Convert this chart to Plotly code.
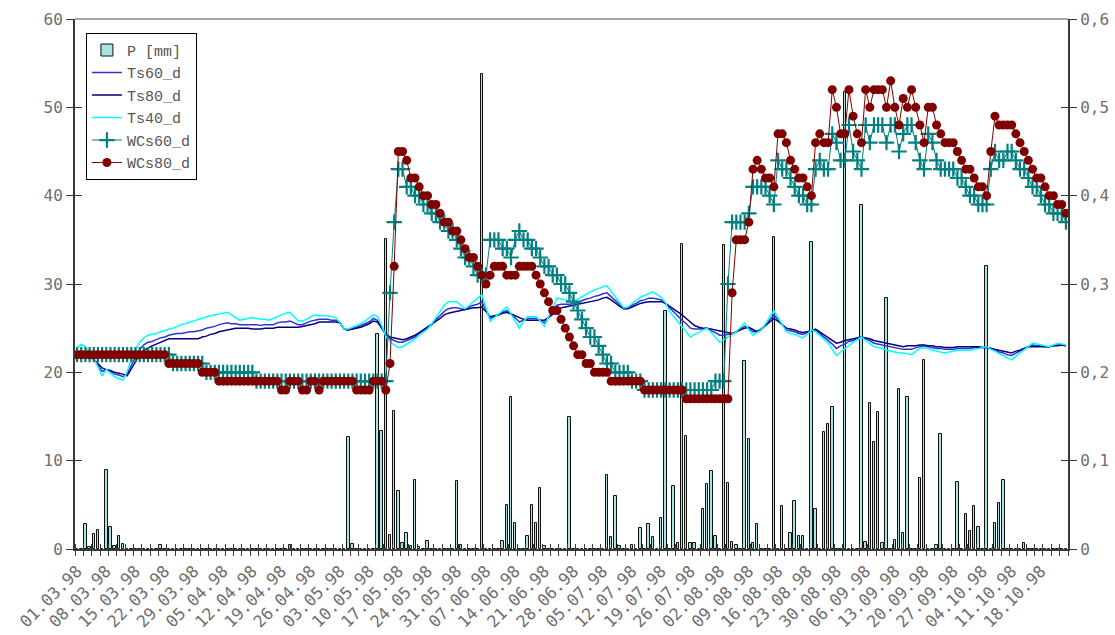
import plotly.graph_objects as go
import pandas as pd

# ---------------- data (daily, 01.03.98 .. 24.10.98) ----------------
dates = pd.date_range("1998-03-01", "1998-10-24", freq="D")
date_labels = [d.strftime("%d.%m.%y") for d in dates]
day = list(range(len(dates)))

precip = [
    0, 0, 2.8, 0.2, 1.7, 2.1, 0, 8.9, 2.5, 0.3,
    1.5, 0.6, 0, 0, 0, 0, 0, 0, 0, 0,
    0.5, 0, 0, 0, 0, 0, 0, 0, 0, 0,
    0, 0, 0, 0, 0, 0, 0, 0, 0, 0,
    0, 0, 0, 0, 0, 0, 0, 0, 0, 0,
    0, 0.4, 0, 0, 0, 0, 0, 0, 0, 0,
    0, 0, 0, 0, 0, 12.7, 0.6, 0, 0, 0,
    0, 0, 24.3, 13.4, 35.1, 1.6, 15.6, 6.6, 0.7, 1.8,
    0.3, 7.8, 0.2, 0, 0.9, 0, 0, 0, 0, 0,
    0, 7.7, 0.4, 0, 0, 0, 0, 53.8, 0, 0,
    0, 0, 0.9, 5.0, 17.2, 3.0, 0, 0, 1.5, 5.0,
    3.0, 6.9, 0.3, 0, 0, 0, 0, 0, 15.0, 0,
    0, 0, 0, 0, 0, 0, 0, 8.4, 1.4, 6.0,
    0.3, 0, 0, 0.4, 0, 2.4, 0, 2.8, 1.4, 0,
    3.5, 27.0, 0, 7.1, 0.7, 34.5, 12.8, 0.7, 0.7, 0,
    4.5, 7.4, 8.8, 1.5, 0, 34.4, 7.5, 0.8, 0.4, 0,
    21.3, 12.4, 0.7, 2.8, 0, 0, 0, 35.3, 0, 4.9,
    0, 1.8, 5.4, 1.5, 1.5, 0, 34.7, 4.5, 0, 13.2,
    14.2, 16.1, 0, 0, 51.7, 0, 0, 0, 38.9, 0.8,
    16.5, 12.1, 15.5, 0.7, 28.4, 0, 1.0, 18.1, 1.8, 17.2,
    0, 0, 8.0, 21.4, 0, 0, 0.5, 13.0, 0, 0,
    0, 7.6, 0, 4.0, 2.0, 4.9, 2.5, 0, 32.0, 0,
    2.9, 5.2, 7.8, 0, 0, 0, 0, 0.7, 0, 0,
    0, 0, 0, 0, 0, 0, 0, 0,
]

ts60 = [
    22.3, 22.4, 22.2, 21.9, 21.5, 20.8, 20.1, 20.3, 20.1, 19.8,
    19.7, 19.5, 19.8, 20.8, 21.8, 22.6, 23.1, 23.4, 23.5, 23.7,
    23.9, 24.0, 24.2, 24.3, 24.4, 24.4, 24.5, 24.6, 24.6, 24.7,
    24.8, 25.0, 25.1, 25.2, 25.4, 25.5, 25.6, 25.5, 25.5, 25.4,
    25.4, 25.4, 25.4, 25.4, 25.3, 25.4, 25.4, 25.4, 25.6, 25.7,
    25.7, 25.8, 25.6, 25.4, 25.4, 25.6, 25.8, 25.9, 26.0, 26.0,
    26.0, 25.9, 25.9, 25.6, 24.9, 24.8, 25.0, 25.1, 25.3, 25.5,
    25.7, 26.1, 25.9, 25.1, 24.2, 23.8, 23.6, 23.4, 23.4, 23.6,
    23.8, 24.0, 24.4, 24.7, 25.0, 25.4, 26.0, 26.4, 26.9, 27.2,
    27.3, 27.3, 27.2, 27.1, 27.4, 27.6, 27.7, 28.0, 27.1, 26.1,
    26.3, 26.5, 26.8, 27.0, 26.6, 26.2, 25.7, 25.9, 26.1, 26.1,
    26.1, 25.9, 25.6, 26.2, 26.9, 27.6, 27.7, 27.7, 27.7, 27.8,
    27.9, 28.1, 28.3, 28.4, 28.6, 28.7, 28.9, 29.0, 28.6, 28.1,
    27.7, 27.2, 27.3, 27.6, 27.8, 28.1, 28.2, 28.4, 28.4, 28.3,
    28.2, 27.8, 27.3, 26.8, 26.4, 25.9, 25.5, 25.0, 24.9, 24.9,
    24.9, 25.0, 24.7, 24.5, 24.2, 24.2, 24.3, 24.3, 24.6, 24.9,
    25.2, 25.0, 24.6, 24.6, 24.9, 25.4, 25.9, 26.5, 26.0, 25.4,
    24.8, 24.7, 24.6, 24.4, 24.3, 24.5, 24.7, 24.8, 24.4, 24.1,
    23.7, 23.2, 22.7, 23.0, 23.2, 23.5, 23.6, 23.8, 24.0, 23.8,
    23.6, 23.3, 23.2, 23.1, 23.0, 22.9, 22.8, 22.7, 22.6, 22.6,
    22.6, 22.8, 22.9, 23.0, 22.9, 22.8, 22.7, 22.7, 22.6, 22.6,
    22.6, 22.7, 22.7, 22.7, 22.7, 22.8, 22.8, 22.8, 22.8, 22.7,
    22.5, 22.3, 22.2, 22.0, 21.9, 22.2, 22.4, 22.7, 22.9, 23.1,
    23.0, 23.0, 22.9, 22.9, 23.0, 23.1, 23.1, 23.0,
]

ts80 = [
    22.0, 21.9, 21.8, 21.7, 21.5, 21.0, 20.5, 20.3, 20.2, 20.0,
    19.9, 19.8, 19.6, 20.4, 21.2, 22.0, 22.5, 22.8, 23.0, 23.2,
    23.4, 23.6, 23.8, 23.8, 23.8, 23.8, 23.8, 23.8, 23.8, 23.8,
    24.0, 24.1, 24.3, 24.4, 24.6, 24.7, 24.8, 24.9, 25.0, 25.0,
    25.0, 25.0, 24.9, 24.9, 24.9, 25.0, 25.0, 25.0, 25.1, 25.1,
    25.1, 25.1, 25.1, 25.1, 25.2, 25.3, 25.4, 25.5, 25.7, 25.7,
    25.7, 25.7, 25.7, 25.6, 24.9, 24.8, 24.9, 25.0, 25.1, 25.3,
    25.5, 25.8, 25.7, 25.0, 24.3, 24.0, 23.9, 23.8, 23.7, 23.8,
    24.0, 24.2, 24.5, 24.8, 25.1, 25.4, 25.8, 26.1, 26.5, 26.7,
    26.8, 26.9, 27.0, 27.1, 27.2, 27.3, 27.3, 27.4, 26.9, 26.3,
    26.4, 26.5, 26.7, 26.8, 26.6, 26.4, 26.2, 26.0, 25.9, 25.9,
    25.9, 25.9, 25.9, 26.2, 26.6, 27.0, 27.3, 27.4, 27.5, 27.6,
    27.7, 27.8, 27.9, 28.0, 28.1, 28.2, 28.4, 28.5, 28.2, 27.8,
    27.5, 27.2, 27.2, 27.4, 27.6, 27.8, 27.9, 28.0, 28.0, 28.0,
    28.0, 27.8, 27.5, 27.2, 26.9, 26.5, 26.1, 25.7, 25.3, 25.1,
    25.0, 25.0, 24.9, 24.8, 24.7, 24.6, 24.5, 24.4, 24.6, 24.8,
    25.0, 25.1, 24.8, 24.6, 24.9, 25.3, 25.7, 26.1, 25.8, 25.4,
    25.0, 24.9, 24.8, 24.6, 24.5, 24.6, 24.7, 24.9, 24.6, 24.3,
    24.0, 23.6, 23.3, 23.4, 23.6, 23.7, 23.8, 23.9, 24.0, 23.9,
    23.8, 23.6, 23.5, 23.4, 23.3, 23.2, 23.1, 23.0, 22.9, 23.0,
    23.0, 23.0, 23.1, 23.1, 23.0, 23.0, 22.9, 22.9, 22.8, 22.8,
    22.8, 22.9, 22.9, 22.9, 22.9, 22.9, 22.9, 22.8, 22.8, 22.7,
    22.6, 22.5, 22.4, 22.3, 22.2, 22.4, 22.5, 22.7, 22.9, 22.9,
    22.9, 22.9, 22.9, 22.9, 23.0, 23.0, 23.1, 23.0,
]

ts40 = [
    22.8, 23.2, 22.9, 22.3, 21.6, 20.6, 19.6, 20.3, 19.9, 19.5,
    19.3, 19.1, 20.1, 21.5, 22.6, 23.4, 23.9, 24.2, 24.3, 24.4,
    24.6, 24.7, 24.9, 25.0, 25.2, 25.4, 25.5, 25.7, 25.8, 26.0,
    26.1, 26.3, 26.4, 26.5, 26.6, 26.7, 26.8, 26.5, 26.2, 25.9,
    26.0, 26.1, 26.2, 26.1, 26.0, 26.0, 25.9, 26.1, 26.3, 26.5,
    26.7, 26.8, 26.3, 25.8, 25.8, 26.0, 26.3, 26.5, 26.4, 26.4,
    26.4, 26.3, 26.2, 25.6, 24.9, 24.9, 25.1, 25.3, 25.5, 25.8,
    26.1, 26.5, 26.3, 25.3, 24.1, 23.5, 23.1, 22.8, 22.9, 23.2,
    23.5, 23.8, 24.2, 24.5, 24.9, 25.5, 26.2, 26.9, 27.6, 28.0,
    28.0, 28.0, 27.6, 27.2, 27.6, 28.0, 28.4, 28.8, 27.3, 25.8,
    26.2, 26.6, 27.0, 27.4, 26.6, 25.8, 25.0, 25.8, 26.3, 26.3,
    26.3, 25.8, 25.2, 26.3, 27.4, 28.4, 28.3, 28.2, 28.1, 28.0,
    28.3, 28.6, 28.9, 29.1, 29.3, 29.5, 29.7, 29.8, 29.2, 28.6,
    28.0, 27.3, 27.4, 27.8, 28.1, 28.5, 28.7, 28.9, 29.1, 28.8,
    28.5, 27.9, 26.9, 26.3, 25.7, 25.1, 24.5, 24.0, 24.3, 24.5,
    24.8, 25.0, 24.5, 24.0, 23.4, 23.7, 24.0, 24.2, 24.6, 25.1,
    25.6, 24.8, 24.2, 24.5, 24.8, 25.5, 26.2, 27.0, 26.2, 25.4,
    24.6, 24.4, 24.3, 24.1, 23.9, 24.3, 24.8, 24.6, 24.2, 23.8,
    23.3, 22.6, 21.9, 22.3, 22.7, 23.1, 23.4, 23.7, 24.0, 23.6,
    23.2, 22.9, 22.8, 22.7, 22.5, 22.4, 22.3, 22.2, 22.2, 22.1,
    22.0, 22.4, 22.7, 22.8, 22.7, 22.5, 22.4, 22.3, 22.2, 22.3,
    22.4, 22.5, 22.5, 22.5, 22.5, 22.6, 22.7, 22.8, 22.9, 22.6,
    22.4, 22.1, 21.9, 21.6, 21.4, 21.8, 22.2, 22.6, 22.9, 23.3,
    23.2, 23.1, 23.0, 22.9, 23.1, 23.3, 23.2, 23.1,
]

wcs60 = [
    0.22, 0.22, 0.22, 0.22, 0.22, 0.22, 0.22, 0.22, 0.22, 0.22,
    0.22, 0.22, 0.22, 0.22, 0.22, 0.22, 0.22, 0.22, 0.22, 0.22,
    0.22, 0.22, 0.22, 0.21, 0.21, 0.21, 0.21, 0.21, 0.21, 0.21,
    0.21, 0.20, 0.20, 0.20, 0.20, 0.20, 0.20, 0.20, 0.20, 0.20,
    0.20, 0.20, 0.20, 0.19, 0.19, 0.19, 0.19, 0.19, 0.19, 0.19,
    0.19, 0.19, 0.19, 0.19, 0.19, 0.19, 0.19, 0.19, 0.19, 0.19,
    0.19, 0.19, 0.19, 0.19, 0.19, 0.19, 0.19, 0.19, 0.19, 0.19,
    0.19, 0.19, 0.19, 0.19, 0.19, 0.29, 0.37, 0.43, 0.43, 0.41,
    0.41, 0.40, 0.40, 0.39, 0.39, 0.38, 0.38, 0.37, 0.37, 0.36,
    0.36, 0.35, 0.34, 0.33, 0.33, 0.32, 0.31, 0.31, 0.31, 0.35,
    0.35, 0.35, 0.34, 0.34, 0.33, 0.35, 0.36, 0.35, 0.35, 0.34,
    0.34, 0.33, 0.32, 0.32, 0.31, 0.31, 0.30, 0.30, 0.29, 0.28,
    0.27, 0.26, 0.25, 0.24, 0.24, 0.23, 0.22, 0.21, 0.21, 0.20,
    0.20, 0.20, 0.20, 0.19, 0.19, 0.19, 0.18, 0.18, 0.18, 0.18,
    0.18, 0.18, 0.18, 0.18, 0.18, 0.18, 0.18, 0.18, 0.18, 0.18,
    0.18, 0.18, 0.18, 0.19, 0.19, 0.19, 0.30, 0.37, 0.37, 0.37,
    0.37, 0.38, 0.41, 0.41, 0.41, 0.41, 0.40, 0.39, 0.44, 0.43,
    0.43, 0.42, 0.41, 0.40, 0.40, 0.39, 0.39, 0.43, 0.44, 0.43,
    0.43, 0.47, 0.46, 0.44, 0.44, 0.48, 0.45, 0.44, 0.43, 0.48,
    0.46, 0.48, 0.48, 0.48, 0.46, 0.48, 0.48, 0.45, 0.47, 0.48,
    0.48, 0.46, 0.44, 0.43, 0.47, 0.46, 0.44, 0.43, 0.43, 0.43,
    0.43, 0.42, 0.42, 0.41, 0.40, 0.40, 0.39, 0.39, 0.39, 0.43,
    0.45, 0.44, 0.44, 0.45, 0.45, 0.44, 0.43, 0.43, 0.42, 0.41,
    0.41, 0.40, 0.39, 0.39, 0.38, 0.38, 0.38, 0.37,
]

wcs80 = [
    0.22, 0.22, 0.22, 0.22, 0.22, 0.22, 0.22, 0.22, 0.22, 0.22,
    0.22, 0.22, 0.22, 0.22, 0.22, 0.22, 0.22, 0.22, 0.22, 0.22,
    0.22, 0.22, 0.21, 0.21, 0.21, 0.21, 0.21, 0.21, 0.21, 0.21,
    0.20, 0.20, 0.20, 0.20, 0.19, 0.19, 0.19, 0.19, 0.19, 0.19,
    0.19, 0.19, 0.19, 0.19, 0.19, 0.19, 0.19, 0.19, 0.19, 0.18,
    0.18, 0.19, 0.19, 0.19, 0.18, 0.18, 0.19, 0.19, 0.18, 0.19,
    0.19, 0.19, 0.19, 0.19, 0.19, 0.19, 0.19, 0.18, 0.18, 0.18,
    0.18, 0.19, 0.19, 0.19, 0.18, 0.21, 0.32, 0.45, 0.45, 0.44,
    0.42, 0.42, 0.41, 0.40, 0.40, 0.39, 0.39, 0.38, 0.37, 0.37,
    0.36, 0.36, 0.35, 0.34, 0.33, 0.33, 0.32, 0.31, 0.30, 0.31,
    0.32, 0.32, 0.32, 0.31, 0.31, 0.31, 0.32, 0.32, 0.32, 0.32,
    0.31, 0.30, 0.29, 0.28, 0.27, 0.27, 0.26, 0.25, 0.24, 0.23,
    0.22, 0.22, 0.21, 0.21, 0.20, 0.20, 0.20, 0.20, 0.19, 0.19,
    0.19, 0.19, 0.19, 0.19, 0.19, 0.19, 0.18, 0.18, 0.18, 0.18,
    0.18, 0.18, 0.18, 0.18, 0.18, 0.18, 0.17, 0.17, 0.17, 0.17,
    0.17, 0.17, 0.17, 0.17, 0.17, 0.17, 0.17, 0.29, 0.35, 0.35,
    0.35, 0.37, 0.43, 0.44, 0.43, 0.42, 0.42, 0.41, 0.47, 0.47,
    0.46, 0.44, 0.43, 0.42, 0.42, 0.41, 0.40, 0.46, 0.47, 0.46,
    0.46, 0.52, 0.50, 0.47, 0.47, 0.52, 0.49, 0.47, 0.46, 0.52,
    0.50, 0.52, 0.52, 0.52, 0.50, 0.53, 0.50, 0.48, 0.51, 0.50,
    0.52, 0.50, 0.48, 0.46, 0.50, 0.50, 0.48, 0.47, 0.46, 0.46,
    0.46, 0.45, 0.44, 0.43, 0.43, 0.42, 0.41, 0.41, 0.40, 0.45,
    0.49, 0.48, 0.48, 0.48, 0.48, 0.47, 0.46, 0.45, 0.44, 0.43,
    0.42, 0.42, 0.41, 0.40, 0.40, 0.39, 0.39, 0.38,
]

left_ticks = [0, 10, 20, 30, 40, 50, 60]
right_ticks = [0, 0.1, 0.2, 0.3, 0.4, 0.5, 0.6]
right_labels = ["0", "0,1", "0,2", "0,3", "0,4", "0,5", "0,6"]

for name, arr in [("precip", precip), ("ts60", ts60), ("ts80", ts80),
                  ("ts40", ts40), ("wcs60", wcs60), ("wcs80", wcs80)]:
    assert len(arr) == len(day), (name, len(arr))

# ---------------- figure ----------------
AX = "#3a3a3a"
TXT = "#6e6e6e"
MONO = "DejaVu Sans Mono"

fig = go.Figure()
fig.add_trace(go.Bar(
    x=day, y=precip, name="P [mm]", width=0.6,
    marker=dict(color="#A6E3E3", line=dict(color="#111111", width=1)),
))
fig.add_trace(go.Scatter(x=day, y=ts60, name="Ts60_d", mode="lines",
                         line=dict(color="#3333CC", width=1.5)))
fig.add_trace(go.Scatter(x=day, y=ts80, name="Ts80_d", mode="lines",
                         line=dict(color="#000080", width=1.5)))
fig.add_trace(go.Scatter(x=day, y=ts40, name="Ts40_d", mode="lines",
                         line=dict(color="#00FFFF", width=1.5)))
fig.add_trace(go.Scatter(x=day, y=wcs60, name="WCs60_d", mode="lines+markers",
                         yaxis="y2",
                         line=dict(color="#008080", width=1),
                         marker=dict(symbol="cross-thin", size=11,
                                     line=dict(color="#008080", width=2.2))))
fig.add_trace(go.Scatter(x=day, y=wcs80, name="WCs80_d", mode="lines+markers",
                         yaxis="y2",
                         line=dict(color="#800000", width=1),
                         marker=dict(symbol="circle", size=9, color="#800000")))
# helper traces so the overlay axes (inner half of crossing ticks) get drawn
fig.add_trace(go.Scatter(x=[None], y=[None], xaxis="x2", yaxis="y3",
                         showlegend=False, hoverinfo="skip"))
fig.add_trace(go.Scatter(x=[None], y=[None], xaxis="x", yaxis="y4",
                         showlegend=False, hoverinfo="skip"))

xr = [-0.5, len(day) - 0.5]
fig.update_layout(
    width=1115, height=635,
    margin=dict(l=75, r=47, t=19, b=86),
    paper_bgcolor="white", plot_bgcolor="white",
    bargap=0, showlegend=True,
    font=dict(family=MONO, color=TXT),
    xaxis=dict(
        range=xr, tickmode="array", tickvals=day[::7], ticktext=date_labels[::7],
        tickangle=-45, ticks="", showgrid=False, zeroline=False, automargin=False,
        showline=True, linecolor=AX, linewidth=2, ticklabelstandoff=4,
        tickfont=dict(family=MONO, size=16.5, color=TXT),
        minor=dict(tickmode="linear", tick0=-0.5, dtick=2, ticks="outside",
                   ticklen=5, tickwidth=1, tickcolor=AX),
    ),
    xaxis2=dict(
        range=xr, overlaying="x", anchor="y", showticklabels=False,
        tickmode="array", tickvals=[], ticks="", showgrid=False, zeroline=False,
        showline=False, automargin=False,
        minor=dict(tickmode="linear", tick0=-0.5, dtick=2, ticks="inside",
                   ticklen=5, tickwidth=1, tickcolor=AX),
    ),
    yaxis=dict(
        range=[0, 60], tickmode="array", tickvals=left_ticks,
        ticks="outside", ticklen=7, tickwidth=1, tickcolor=AX, automargin=False,
        showgrid=False, zeroline=False, showline=True, linecolor=AX, linewidth=2,
        tickfont=dict(family=MONO, size=16, color=TXT),
    ),
    yaxis3=dict(
        range=[0, 60], overlaying="y", side="left", anchor="x",
        tickmode="array", tickvals=left_ticks, showticklabels=False,
        ticks="inside", ticklen=7, tickwidth=1, tickcolor=AX, automargin=False,
        showgrid=False, zeroline=False, showline=False,
    ),
    yaxis2=dict(
        range=[0, 0.6], overlaying="y", side="right", anchor="x",
        tickmode="array", tickvals=right_ticks, ticktext=right_labels,
        ticks="outside", ticklen=7, tickwidth=1, tickcolor=AX, automargin=False,
        showgrid=False, zeroline=False, showline=True, linecolor=AX, linewidth=2,
        tickfont=dict(family=MONO, size=16, color=TXT),
    ),
    yaxis4=dict(
        range=[0, 0.6], overlaying="y", side="right", anchor="x",
        tickmode="array", tickvals=right_ticks, showticklabels=False,
        ticks="inside", ticklen=7, tickwidth=1, tickcolor=AX, automargin=False,
        showgrid=False, zeroline=False, showline=False,
    ),
    legend=dict(
        x=0.011, y=0.974, xanchor="left", yanchor="top",
        bgcolor="white", bordercolor="#000000", borderwidth=1,
        font=dict(family="Liberation Mono", size=15, color="#555555"),
        tracegroupgap=0, itemwidth=30,
    ),
    shapes=[dict(type="line", xref="paper", yref="paper", x0=0, x1=1, y0=1, y1=1,
                 line=dict(color="#8a8a8a", width=1.5))],
)

fig.write_html("out.html")
